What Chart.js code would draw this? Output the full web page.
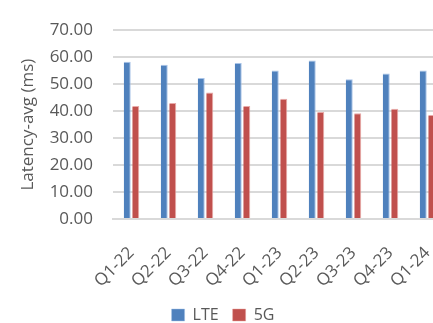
<!DOCTYPE html>
<html>
<head>
<meta charset="utf-8">
<script src="https://cdn.jsdelivr.net/npm/chart.js@4/dist/chart.umd.min.js"></script>
<style>
  html, body { margin: 0; padding: 0; background: #ffffff; overflow: hidden; width: 433px; height: 323px; }
  #wrap { position: relative; width: 446px; height: 323px; }
</style>
</head>
<body>
<div id="wrap"><canvas id="chart" width="446" height="323"></canvas></div>
<script>
// Quarterly average latency, LTE vs 5G
const quarters = ['Q1-22', 'Q2-22', 'Q3-22', 'Q4-22', 'Q1-23', 'Q2-23', 'Q3-23', 'Q4-23', 'Q1-24'];
const lteLatency = [58.3, 57.2, 52.3, 57.8, 55.1, 58.8, 51.8, 53.9, 55.1];
const fiveGLatency = [41.9, 43.0, 46.9, 41.9, 44.6, 39.7, 39.2, 40.9, 38.6];
const yTicks = [0, 10, 20, 30, 40, 50, 60, 70];

const textColor = '#595959';
const gridColor = '#d9d9d9';
const fontFamily = '"Open Sans", "DejaVu Sans", sans-serif';

new Chart(document.getElementById('chart'), {
  type: 'bar',
  data: {
    labels: quarters,
    datasets: [
      {
        label: 'LTE',
        data: lteLatency,
        backgroundColor: '#4f81bd',
        borderColor: 'rgba(160,190,230,0.9)',
        borderWidth: { top: 1, right: 1, left: 0, bottom: 0 },
        barPercentage: 0.82,
        categoryPercentage: 0.46
      },
      {
        label: '5G',
        data: fiveGLatency,
        backgroundColor: '#c0504d',
        borderColor: 'rgba(230,160,158,0.9)',
        borderWidth: { top: 1, right: 1, left: 0, bottom: 0 },
        barPercentage: 0.82,
        categoryPercentage: 0.46
      }
    ]
  },
  options: {
    responsive: false,
    animation: false,
    layout: { padding: { top: 0, left: 0, right: 0, bottom: -10 } },
    plugins: {
      tooltip: { enabled: false },
      legend: {
        position: 'bottom',
        labels: {
          color: textColor,
          font: { family: fontFamily, size: 16 },
          boxWidth: 13,
          boxHeight: 12,
          padding: 14
        }
      }
    },
    scales: {
      x: {
        grid: { display: false, drawTicks: false },
        border: { display: true, color: gridColor, width: 2 },
        ticks: {
          color: textColor,
          font: { family: fontFamily, size: 17 },
          minRotation: 45,
          maxRotation: 45,
          padding: 24
        },
        afterFit: (scale) => {
          scale.height = 74;
          scale.paddingLeft = 0;
          scale.paddingRight = 0;
        }
      },
      y: {
        min: 0,
        max: 70,
        afterBuildTicks: (scale) => { scale.ticks = yTicks.map(v => ({ value: v })); },
        grid: { color: gridColor, lineWidth: 2, drawTicks: false },
        border: { display: false },
        ticks: {
          color: textColor,
          font: { family: fontFamily, size: 17 },
          padding: 20,
          callback: (v) => Number(v).toFixed(2)
        },
        title: {
          display: true,
          text: 'Latency-avg (ms)',
          color: textColor,
          font: { family: fontFamily, size: 17 },
          padding: { top: 18, bottom: 0 }
        },
        afterFit: (scale) => { scale.width = 113; }
      }
    }
  }
});
</script>
</body>
</html>
